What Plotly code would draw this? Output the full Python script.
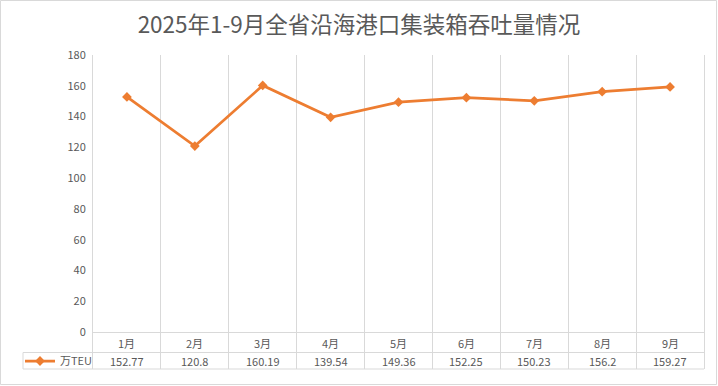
import plotly.graph_objects as go

months = ["1月", "2月", "3月", "4月", "5月", "6月", "7月", "8月", "9月"]
teu = [152.77, 120.8, 160.19, 139.54, 149.36, 152.25, 150.23, 156.2, 159.27]
value_labels = ["152.77", "120.8", "160.19", "139.54", "149.36", "152.25", "150.23", "156.2", "159.27"]
series_name = "万TEU"
y_ticks = [0, 20, 40, 60, 80, 100, 120, 140, 160, 180]
title_text = "2025年1-9月全省沿海港口集装箱吞吐量情况"

W, H = 718, 386
L, R, T, B = 93, 14, 55, 17
pw, ph = W - L - R, H - T - B
GRID = "#D9D9D9"
TXT = "#595959"
ORANGE = "#ED7D31"
FONT = "Noto Sans CJK SC"

def px_x(px):
    return (px - L) / pw

def px_y(py):
    return (H - B - py) / ph

# value range: 180 at top (y=55), 0 at y=332
unit = (332 - 55) / 180.0
ymin = -(H - B - 332) / unit

fig = go.Figure()
fig.add_trace(go.Scatter(
    x=months, y=teu, name=series_name, mode="lines+markers",
    line=dict(color=ORANGE, width=2.75),
    marker=dict(symbol="diamond", size=7.5, color=ORANGE),
))

shapes = [
    # outer border
    dict(type="rect", xref="paper", yref="paper", x0=px_x(0.5), x1=px_x(W - 1.5),
         y0=px_y(H - 1.5), y1=px_y(0.5), line=dict(color=GRID, width=1)),
    # table row line between header and values
    dict(type="line", xref="paper", yref="paper", x0=px_x(23), x1=1,
         y0=px_y(352.5), y1=px_y(352.5), line=dict(color=GRID, width=1)),
    # table bottom
    dict(type="line", xref="paper", yref="paper", x0=px_x(23), x1=1,
         y0=0, y1=0, line=dict(color=GRID, width=1)),
    # legend cell left border
    dict(type="line", xref="paper", yref="paper", x0=px_x(23), x1=px_x(23),
         y0=0, y1=px_y(352.5), line=dict(color=GRID, width=1)),
]

annotations = []
for m, v in zip(months, value_labels):
    annotations.append(dict(x=m, y=px_y(342.5), xref="x", yref="paper", text=m,
                            xanchor="center", yanchor="middle",
                            showarrow=False, font=dict(family=FONT, size=11, color=TXT)))
    annotations.append(dict(x=m, y=px_y(361), xref="x", yref="paper", text=v,
                            xanchor="center", yanchor="middle",
                            showarrow=False, font=dict(family=FONT, size=11, color=TXT)))

fig.update_layout(
    width=W, height=H,
    margin=dict(l=L, r=R, t=T, b=B, autoexpand=False),
    paper_bgcolor="white", plot_bgcolor="white",
    title=dict(text=title_text, x=0.5, xref="container", y=1 - 25 / H, yref="container",
               xanchor="center", yanchor="middle",
               font=dict(family=FONT, size=22.5, color=TXT)),
    showlegend=True,
    legend=dict(x=px_x(20), y=px_y(361), xanchor="left", yanchor="middle",
                orientation="h", bgcolor="rgba(0,0,0,0)",
                font=dict(family=FONT, size=11, color=TXT)),
    xaxis=dict(type="category", range=[-0.5, len(months) - 0.5], tickson="boundaries",
               showgrid=True, gridcolor=GRID, gridwidth=1, showticklabels=False,
               ticks="", zeroline=False, showline=False, fixedrange=True,
               automargin=False),
    yaxis=dict(range=[ymin, 180], tickvals=y_ticks, showgrid=False,
               zeroline=True, zerolinecolor=GRID, zerolinewidth=1,
               showline=True, mirror=True, linecolor=GRID, linewidth=1,
               ticks="outside", ticklen=4, tickcolor="rgba(0,0,0,0)",
               tickfont=dict(family=FONT, size=11, color=TXT), fixedrange=True,
               automargin=False),
    shapes=shapes,
    annotations=annotations,
)

fig.write_html("out.html", config={"displayModeBar": False},
               post_script="document.body.style.margin='0';")
